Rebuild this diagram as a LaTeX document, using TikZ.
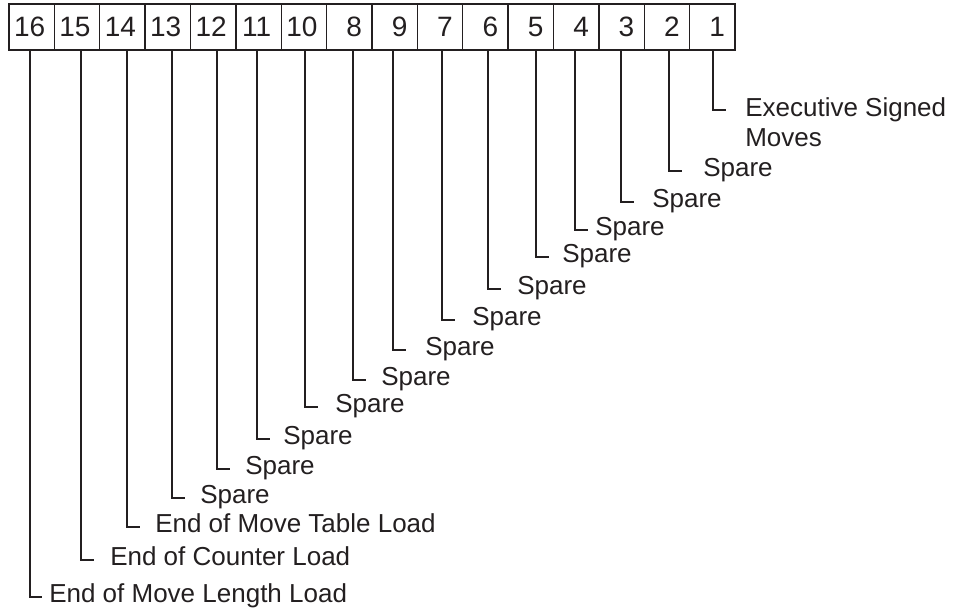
\documentclass[tikz,border=0pt]{standalone}
\usepackage{fontspec}
\setmainfont{Liberation Sans}
\usetikzlibrary{positioning}
\definecolor{ink}{HTML}{231F20}

\tikzset{
  bit/.style={draw=ink, line width=1pt, outer sep=0pt, inner xsep=3.76pt, inner ysep=0pt,
    minimum width=34.03pt, minimum height=34.5pt, text width=26.5pt, align=right,
    execute at end node={\hspace*{3.75pt}}, font=\fontsize{21}{24}\selectfont, text=ink},
  lead/.style={draw=ink, line width=1pt},
  tag/.style={anchor=base west, inner sep=0pt, align=left, text=ink,
    font=\fontsize{19.5}{22.5}\selectfont},
}

\begin{document}
\begin{tikzpicture}[x=0.75pt, y=-0.75pt]
\useasboundingbox (0,0) rectangle (966,611);
% register cells, as printed
\node[bit, anchor=north west] (c16) at (9,4) {16};
\node[bit, right=0pt of c16] (c15) {15};
\node[bit, right=0pt of c15] (c14) {14};
\node[bit, right=0pt of c14] (c13) {13};
\node[bit, right=0pt of c13] (c12) {12};
\node[bit, right=0pt of c12] (c11) {11};
\node[bit, right=0pt of c11] (c10) {10};
\node[bit, right=0pt of c10] (c8) {8};
\node[bit, right=0pt of c8] (c9) {9};
\node[bit, right=0pt of c9] (c7) {7};
\node[bit, right=0pt of c7] (c6) {6};
\node[bit, right=0pt of c6] (c5) {5};
\node[bit, right=0pt of c5] (c4) {4};
\node[bit, right=0pt of c4] (c3) {3};
\node[bit, right=0pt of c3] (c2) {2};
\node[bit, right=0pt of c2] (c1) {1};
% corners of the leaders
\coordinate (k1) at (713,110);
\coordinate (k2) at (669,171);
\coordinate (k3) at (621,202);
\coordinate (k4) at (575,230);
\coordinate (k5) at (536,257);
\coordinate (k6) at (488,289);
\coordinate (k7) at (442,320);
\coordinate (k9) at (393,350);
\coordinate (k8) at (353,380);
\coordinate (k10) at (305,407);
\coordinate (k11) at (257,439);
\coordinate (k12) at (217,469);
\coordinate (k13) at (172,498);
\coordinate (k14) at (127,527);
\coordinate (k15) at (81,560);
\coordinate (k16) at (30,597);
% labels
\node[tag] (t1) at (745,146) {Executive Signed\\Moves};
\node[tag] (t2) at (703,176) {Spare};
\node[tag] (t3) at (652,207) {Spare};
\node[tag] (t4) at (595,235) {Spare};
\node[tag] (t5) at (562,262) {Spare};
\node[tag] (t6) at (517,294) {Spare};
\node[tag] (t7) at (472,325) {Spare};
\node[tag] (t9) at (425,355) {Spare};
\node[tag] (t8) at (381,385) {Spare};
\node[tag] (t10) at (335,412) {Spare};
\node[tag] (t11) at (283,444) {Spare};
\node[tag] (t12) at (245,474) {Spare};
\node[tag] (t13) at (200,503) {Spare};
\node[tag] (t14) at (155,532) {End of Move Table Load};
\node[tag] (t15) at (110,565) {End of Counter Load};
\node[tag] (t16) at (49,602) {End of Move Length Load};
% leaders
\draw[lead] (c1.south -| k1) -- (k1) -- ++(13,0);
\draw[lead] (c2.south -| k2) -- (k2) -- ++(13,0);
\draw[lead] (c3.south -| k3) -- (k3) -- ++(13,0);
\draw[lead] (c4.south -| k4) -- (k4) -- ++(13,0);
\draw[lead] (c5.south -| k5) -- (k5) -- ++(13,0);
\draw[lead] (c6.south -| k6) -- (k6) -- ++(13,0);
\draw[lead] (c7.south -| k7) -- (k7) -- ++(13,0);
\draw[lead] (c9.south -| k9) -- (k9) -- ++(13,0);
\draw[lead] (c8.south -| k8) -- (k8) -- ++(13,0);
\draw[lead] (c10.south -| k10) -- (k10) -- ++(13,0);
\draw[lead] (c11.south -| k11) -- (k11) -- ++(13,0);
\draw[lead] (c12.south -| k12) -- (k12) -- ++(13,0);
\draw[lead] (c13.south -| k13) -- (k13) -- ++(13,0);
\draw[lead] (c14.south -| k14) -- (k14) -- ++(13,0);
\draw[lead] (c15.south -| k15) -- (k15) -- ++(13,0);
\draw[lead] (c16.south -| k16) -- (k16) -- ++(12,0);
\end{tikzpicture}
\end{document}
